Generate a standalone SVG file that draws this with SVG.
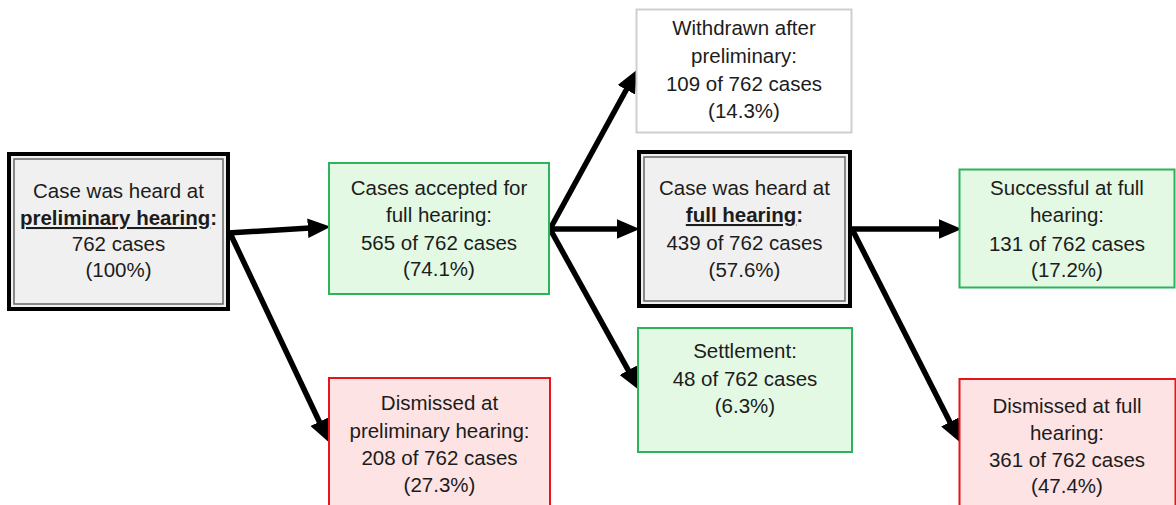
<svg xmlns="http://www.w3.org/2000/svg" width="1176" height="505" viewBox="0 0 1176 505">
<style>
text{font-family:"Liberation Sans",Arial,sans-serif;font-size:20.5px;fill:#1c1c1c;text-anchor:middle}
.b{font-weight:bold}
.u{text-decoration:underline}
.main{fill:#f0f0f0;stroke:#000;stroke-width:4}
.inner{fill:none;stroke:#666;stroke-width:1.5}
.green{fill:#e3f9e3;stroke:#2db35a;stroke-width:2}
.red{fill:#fde3e3;stroke:#e8141c;stroke-width:2}
.white{fill:#fff;stroke:#cfcfcf;stroke-width:2}
.arr{stroke:#000;stroke-width:5.5;fill:none;marker-end:url(#ah)}
</style>
<defs>
<marker id="ah" markerUnits="userSpaceOnUse" markerWidth="24" markerHeight="20" refX="2" refY="9" orient="auto" viewBox="0 0 22 18">
<path d="M0,0 L21,9 L0,18 z" fill="#000"/>
</marker>
</defs>
<rect width="1176" height="505" fill="#fff"/>
<g id="connectors">
<line class="arr" x1="228" y1="233" x2="310" y2="228.1"/>
<line class="arr" x1="230" y1="233" x2="320.3" y2="423.7"/>
<line class="arr" x1="550" y1="229" x2="627.4" y2="87.8"/>
<line class="arr" x1="549" y1="229" x2="619" y2="229"/>
<line class="arr" x1="550" y1="229" x2="629.3" y2="372.2"/>
<line class="arr" x1="851" y1="229" x2="941" y2="229"/>
<line class="arr" x1="852" y1="229" x2="950.9" y2="423.9"/>
</g>
<g id="preliminary">
<rect class="main" x="9" y="154" width="219" height="155"/>
<rect class="inner" x="14" y="159" width="209" height="145"/>
<text x="118.5" y="198">Case was heard at</text>
<text x="118.5" y="225" class="b"><tspan class="u">preliminary hearing</tspan>:</text>
<text x="118.5" y="251">762 cases</text>
<text x="118.5" y="277">(100%)</text>
</g>
<g id="accepted">
<rect class="green" x="329" y="163" width="220" height="131"/>
<text x="439" y="195">Cases accepted for</text>
<text x="439" y="222">full hearing:</text>
<text x="439" y="250">565 of 762 cases</text>
<text x="439" y="276">(74.1%)</text>
</g>
<g id="withdrawn">
<rect class="white" x="636.5" y="9.5" width="215" height="123"/>
<text x="744" y="35">Withdrawn after</text>
<text x="744" y="63">preliminary:</text>
<text x="744" y="91">109 of 762 cases</text>
<text x="744" y="118">(14.3%)</text>
</g>
<g id="full">
<rect class="main" x="639" y="152" width="211" height="154"/>
<rect class="inner" x="644" y="157" width="201" height="144"/>
<text x="744.5" y="195">Case was heard at</text>
<text x="744.5" y="222" class="b"><tspan class="u">full hearing</tspan>:</text>
<text x="744.5" y="250">439 of 762 cases</text>
<text x="744.5" y="277">(57.6%)</text>
</g>
<g id="successful">
<rect class="green" x="959.5" y="169.5" width="215" height="118"/>
<text x="1067" y="195">Successful at full</text>
<text x="1067" y="222">hearing:</text>
<text x="1067" y="251">131 of 762 cases</text>
<text x="1067" y="277">(17.2%)</text>
</g>
<g id="dismissed-prelim">
<rect class="red" x="329" y="378" width="221" height="140"/>
<text x="439.5" y="410">Dismissed at</text>
<text x="439.5" y="438">preliminary hearing:</text>
<text x="439.5" y="465">208 of 762 cases</text>
<text x="439.5" y="492">(27.3%)</text>
</g>
<g id="settlement">
<rect class="green" x="638" y="328" width="214" height="124"/>
<text x="745" y="358">Settlement:</text>
<text x="745" y="386">48 of 762 cases</text>
<text x="745" y="413">(6.3%)</text>
</g>
<g id="dismissed-full">
<rect class="red" x="959.5" y="379" width="216" height="140"/>
<text x="1067" y="413">Dismissed at full</text>
<text x="1067" y="440">hearing:</text>
<text x="1067" y="467">361 of 762 cases</text>
<text x="1067" y="493">(47.4%)</text>
</g>
</svg>
